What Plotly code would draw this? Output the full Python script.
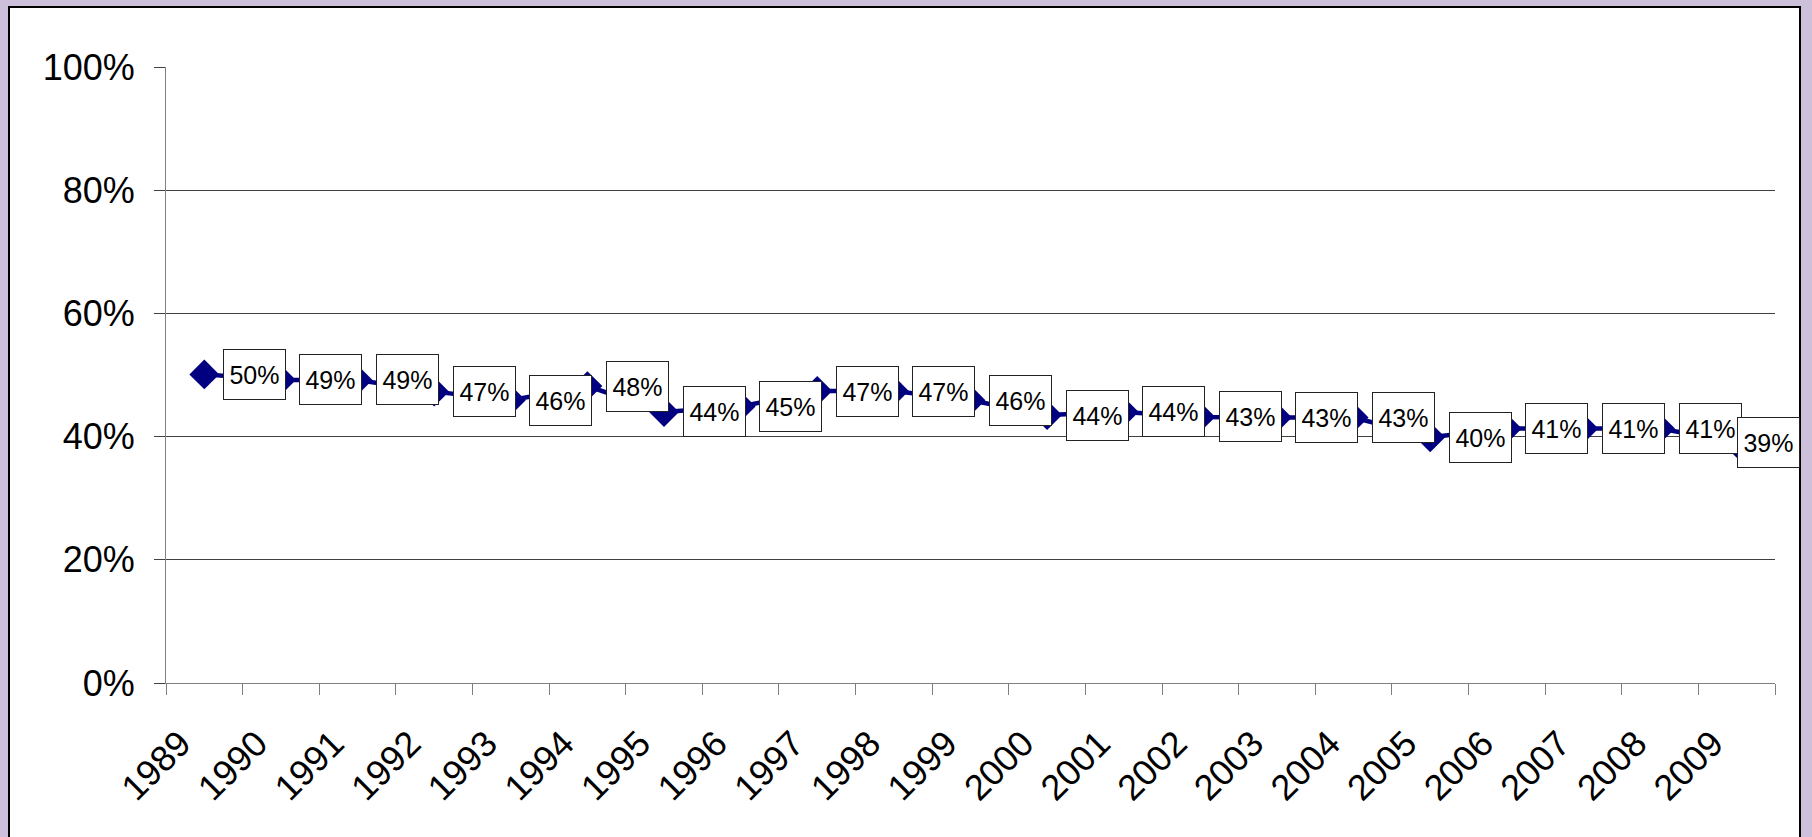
import plotly.graph_objects as go

years = [str(y) for y in range(1989, 2010)]
values = [50.1, 49.2, 49.2, 47.3, 45.9, 48.2, 44.0, 44.9, 47.4, 47.4, 45.9,
          43.5, 44.0, 43.2, 43.1, 43.1, 39.9, 41.3, 41.3, 41.3, 39.0]
labels = ["50%", "49%", "49%", "47%", "46%", "48%", "44%", "45%", "47%", "47%", "46%",
          "44%", "44%", "43%", "43%", "43%", "40%", "41%", "41%", "41%", "39%"]
y_ticks = [0, 20, 40, 60, 80, 100]
y_ticktext = ["0%", "20%", "40%", "60%", "80%", "100%"]

W, H = 1812, 837
ML, MR, MT, MB = 166, 37, 67, 154
PW, PH = W - ML - MR, H - MT - MB

FONT = "Liberation Sans, Arial, sans-serif"

fig = go.Figure()
fig.add_trace(go.Scatter(
    x=years, y=values, mode="lines+markers",
    line=dict(color="#000080", width=4.5),
    marker=dict(symbol="diamond", size=23, color="#000080"),
    hoverinfo="x+y", showlegend=False,
))

n = len(values)
for i, (v, t) in enumerate(zip(values, labels)):
    fig.add_annotation(
        x=i, y=v, xref="x", yref="y", text=t, showarrow=False,
        xshift=50 if i < n - 1 else 32,
        xanchor="center", yanchor="middle",
        width=61, height=49, borderpad=0,
        bgcolor="white", bordercolor="#222222", borderwidth=1,
        font=dict(family=FONT, size=25, color="black"),
    )

# white panel with black border over lavender background
fig.add_shape(
    type="rect", xref="paper", yref="paper", layer="below",
    x0=(9 - ML) / PW, x1=(1800 - ML) / PW,
    y0=-(MB + 20) / PH, y1=1 + (MT - 7) / PH,
    fillcolor="white", line=dict(color="black", width=2),
)

fig.update_layout(
    width=W, height=H,
    margin=dict(l=ML, r=MR, t=MT, b=MB, pad=0, autoexpand=False),
    paper_bgcolor="#CCC0DA",
    plot_bgcolor="rgba(0,0,0,0)",
    font=dict(family=FONT, color="black"),
    xaxis=dict(
        type="category", range=[-0.5, 20.5], tickson="boundaries",
        showgrid=False, zeroline=False, automargin=False,
        showline=True, linecolor="#808080", linewidth=1,
        ticks="outside", ticklen=11, tickcolor="#808080", tickwidth=1,
        tickangle=-45, tickfont=dict(family=FONT, size=36, color="black"),
        ticklabelstandoff=24, ticklabelshift=-24,
    ),
    yaxis=dict(
        range=[0, 100], tickvals=y_ticks, ticktext=y_ticktext,
        showgrid=True, gridcolor="#404040", gridwidth=1, zeroline=False,
        automargin=False,
        showline=True, linecolor="#808080", linewidth=1,
        ticks="outside", ticklen=11, tickcolor="#404040", tickwidth=1,
        tickfont=dict(family=FONT, size=36, color="black"),
        ticklabelstandoff=12,
    ),
)

fig.write_html(
    "out.html",
    config={"displayModeBar": False},
    post_script="document.body.style.margin='0';document.body.style.background='#CCC0DA';",
)
